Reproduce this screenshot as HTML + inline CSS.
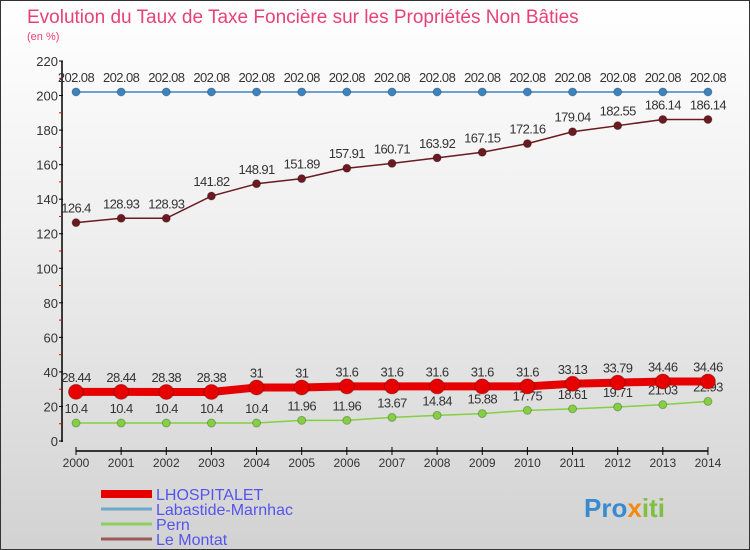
<!DOCTYPE html>
<html><head><meta charset="utf-8"><style>
body{margin:0}
#c{width:748px;height:548px;border:1px solid #333;background:linear-gradient(#fff,#f0f0f0 40%,#d2d2d2);position:relative;font-family:"Liberation Sans",sans-serif;overflow:hidden}
</style></head><body>
<div id="c">
<svg width="748" height="548" id="s"></svg>
</div>
<script>
const years=[2000,2001,2002,2003,2004,2005,2006,2007,2008,2009,2010,2011,2012,2013,2014];
const yTicks=[0,20,40,60,80,100,120,140,160,180,200,220];
const lhospitalet=[28.44,28.44,28.38,28.38,31,31,31.6,31.6,31.6,31.6,31.6,33.13,33.79,34.46,34.46];
const labastide=[202.08,202.08,202.08,202.08,202.08,202.08,202.08,202.08,202.08,202.08,202.08,202.08,202.08,202.08,202.08];
const pern=[10.4,10.4,10.4,10.4,10.4,11.96,11.96,13.67,14.84,15.88,17.75,18.61,19.71,21.03,22.93];
const montat=[126.4,128.93,128.93,141.82,148.91,151.89,157.91,160.71,163.92,167.15,172.16,179.04,182.55,186.14,186.14];
const NS="http://www.w3.org/2000/svg",s=document.getElementById('s');
const X=i=>75+i*45.14, Y=v=>440-v*380/220;
function el(t,a,txt){const e=document.createElementNS(NS,t);for(const k in a)e.setAttribute(k,a[k]);if(txt!==undefined)e.textContent=txt;s.appendChild(e);return e;}
let e;
e=el('text',{x:26,y:22,'font-size':19,fill:'#e8407a'},'Evolution du Taux de Taxe Foncière sur les Propriétés Non Bâties');

e=el('text',{x:26,y:39,'font-size':11,fill:'#e8407a'},'(en %)');

e=el('line',{x1:61,y1:60,x2:61,y2:441,stroke:'#000','stroke-width':1.5});

yTicks.forEach((v,i)=>{
 e=el('line',{x1:58,y1:Y(v),x2:62,y2:Y(v),stroke:'#000'});
 
 e=el('text',{x:57,y:Y(v)+5,'font-size':13,fill:'#333','text-anchor':'end'},v);
 
 if(i<yTicks.length-1){e=el('line',{x1:58,y1:Y(v+10),x2:61,y2:Y(v+10),stroke:'#e00'});
 }
});
e=el('line',{x1:75,y1:450,x2:707,y2:450,stroke:'#000','stroke-width':1.5});

years.forEach((y,i)=>{
 e=el('line',{x1:X(i),y1:446,x2:X(i),y2:454,stroke:'#000'});
 
 e=el('text',{x:X(i),y:466,'font-size':12,fill:'#333','text-anchor':'middle'},y);
 
});
function series(data,color,w,r,name){
 e=el('polyline',{points:data.map((v,i)=>X(i)+','+Y(v)).join(' '),fill:'none',stroke:color,'stroke-width':w});
 
 data.forEach((v,i)=>{
  e=el('circle',{cx:X(i),cy:Y(v),r:r,fill:color,stroke:'rgba(0,0,0,0.25)'});
  
  e=el('text',{x:X(i),y:Y(v)-10,'font-size':13,fill:'#333','text-anchor':'middle','letter-spacing':'-0.6'},v);
  
 });
}
series(labastide,'#3c84c0',1.5,4,'labastide');
series(montat,'#6b1a20',1.5,4,'le-montat');
series(pern,'#84d040',1.5,4,'pern');
series(lhospitalet,'#e60000',8,7.5,'lhospitalet');
const leg=[['LHOSPITALET','#e60000',8],['Labastide-Marnhac','#6fa8c8',3],['Pern','#8ed060',3],['Le Montat','#9a5a5a',3]];
leg.forEach((l,i)=>{
 const y=493+i*15;
 e=el('line',{x1:100,y1:y,x2:151,y2:y,stroke:l[1],'stroke-width':l[2]});
 
 e=el('text',{x:155,y:y+6,'font-size':16,fill:'#5555ee'},l[0]);
 
});
e=el('text',{x:583,y:516,'font-size':26,'font-weight':'bold',fill:'#3a8ad0'});
e.innerHTML='<tspan>Pro</tspan><tspan fill="#f08a10">x</tspan><tspan fill="#80c040">iti</tspan>';

</script>
</body></html>
